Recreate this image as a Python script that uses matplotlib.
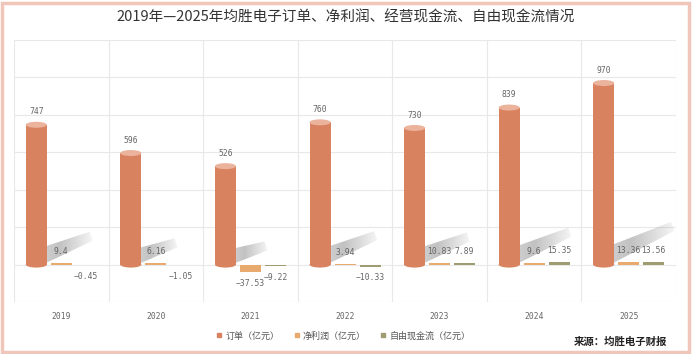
import matplotlib.pyplot as plt
from matplotlib.patches import Ellipse, Polygon, Rectangle
from matplotlib.lines import Line2D
import numpy as np

plt.rcParams['font.family'] = ['Noto Sans CJK SC', 'DejaVu Sans']

# data
years = ['2019', '2020', '2021', '2022', '2023', '2024', '2025']
orders = [747, 596, 526, 760, 730, 839, 970]
profit = [9.4, 6.16, -37.53, 3.94, 10.83, 9.6, 13.36]
fcf = [-0.45, -1.05, -9.22, -10.33, 7.89, 15.35, 13.56]
series_names = ['订单（亿元）', '净利润（亿元）', '自由现金流（亿元）']

c_order = '#d9825f'
c_order_top = '#ebb29c'
c_profit = '#e9aa70'
c_fcf = '#9e9c70'

W, H = 692, 354
fig = plt.figure(figsize=(W / 100, H / 100), dpi=100)
ax = fig.add_axes([14 / W, 1 - 302 / H, 662 / W, 262 / H])

ax.set_xlim(-0.5, 6.5)
ax.set_ylim(-200, 1200)

# pixel -> data scale
ux = 7 / 662
uy = 1400 / 262

off = 25 * ux
bw = 21 * ux
cap_h = 6 * uy

x = np.arange(len(years))

# soft shadows behind the order bars (gradient clipped to a band)
t = np.linspace(0, 1, 64)
alpha_prof = np.interp(t, [0, 0.3, 1], [0.4, 0.5, 0.08])
grad = np.zeros((2, 64, 4))
grad[..., :3] = 0.52
grad[..., 3] = alpha_prof[None, :]
for xi, v in zip(x, orders):
    xr = xi - off + bw / 2 - 2 * ux
    dx = v * 0.064
    dy = v * 0.044
    base_up = 12 + v * 0.008
    pts = [(0, 1), (dx, dy - 9), (dx - 3, dy), (0, base_up)]
    poly = Polygon([(xr + px * ux, py * uy) for px, py in pts], closed=True,
                   facecolor='none', edgecolor='none')
    ax.add_patch(poly)
    im = ax.imshow(grad, extent=[xr, xr + dx * ux, 0, dy * uy], aspect='auto',
                   interpolation='bilinear', zorder=1.5)
    im.set_clip_path(poly)

# order bars as cylinders
ax.bar(x - off, orders, width=bw, color=c_order, zorder=2)
for xi, v in zip(x, orders):
    ax.add_patch(Ellipse((xi - off, 0), bw, cap_h, facecolor=c_order,
                         edgecolor='none', zorder=2))
    ax.add_patch(Ellipse((xi - off, v), bw, cap_h, facecolor=c_order_top,
                         edgecolor='none', zorder=3))
    ax.annotate(str(v), (xi - off, v), xytext=(0, 6), textcoords='offset points',
                ha='center', va='bottom', fontsize=5.8, color='#666666',
                family='DejaVu Sans Mono')

ax.bar(x, profit, width=bw, color=c_profit, zorder=2)
ax.bar(x + off, fcf, width=bw, color=c_fcf, zorder=2)


def fmt(v):
    return f'{v:g}'.replace('-', '−')


for xs, vals in [(x, profit), (x + off, fcf)]:
    for xi, v in zip(xs, vals):
        if v >= 0:
            ax.annotate(fmt(v), (xi, v), xytext=(0, 5), textcoords='offset points',
                        ha='center', va='bottom', fontsize=5.8, color='#666666',
                        family='DejaVu Sans Mono')
        else:
            ax.annotate(fmt(v), (xi, v), xytext=(0, -5), textcoords='offset points',
                        ha='center', va='top', fontsize=5.8, color='#666666',
                        family='DejaVu Sans Mono')

# grid
for gx in np.arange(-0.5, 7, 1):
    ax.axvline(gx, color='#e8e8e8', lw=0.8, zorder=0)
for gy in range(-200, 1201, 200):
    ax.axhline(gy, color='#e8e8e8', lw=0.8, zorder=0)

ax.set_xlim(-0.5, 6.5)
ax.set_ylim(-200, 1200)
for s in ax.spines.values():
    s.set_visible(False)
ax.set_yticks([])
ax.set_xticks(x)
ax.set_xticklabels(years, fontsize=5.8, color='#666666', family='DejaVu Sans Mono')
ax.tick_params(axis='x', length=0, pad=7)

fig.text(0.5, 1 - 17 / H, '2019年—2025年均胜电子订单、净利润、经营现金流、自由现金流情况',
         ha='center', va='center', fontsize=10.5, color='#333333')

handles = [Line2D([], [], marker='s', linestyle='none', markersize=3.5, color=c)
           for c in [c_order, c_profit, c_fcf]]
fig.legend(handles, series_names, loc='center', bbox_to_anchor=(0.495, 1 - 336 / H),
           ncol=3, frameon=False, fontsize=6.5, labelcolor='#555555',
           handletextpad=0.2, columnspacing=1.4, handlelength=1)

fig.text(667 / W, 1 - 342 / H, '来源：均胜电子财报', ha='right', va='center',
         fontsize=7.5, fontweight='bold', color='#222222')

fig.patches.append(Rectangle((2 / W, 2 / H), 687 / W, 349 / H, transform=fig.transFigure,
                             fill=False, edgecolor='#efc6b9', lw=2.5))

fig.savefig('out.png', dpi=100)
